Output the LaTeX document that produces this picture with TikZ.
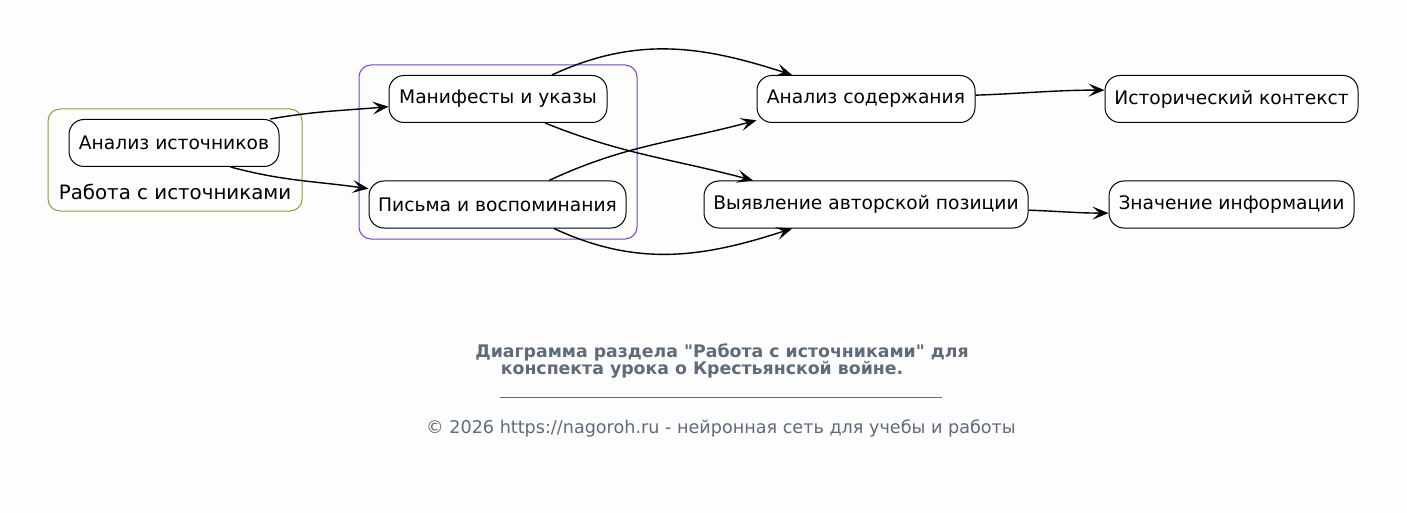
\documentclass[tikz,border=0pt]{standalone}
\usepackage{fontspec}
\setmainfont{DejaVu Sans}[Ligatures=TeXOff]
\usepackage{tikz}
\usetikzlibrary{arrows.meta}
\tikzset{>={Stealth[length=16pt,width=13pt,inset=7pt]}}
\definecolor{bgc}{HTML}{FDFDFD}
\definecolor{grpa}{HTML}{7CAB2E}
\definecolor{grpb}{HTML}{7B3FD0}
\definecolor{capc}{HTML}{5D6B7A}
\tikzset{
  box/.style={draw, line width=1pt, rounded corners=15pt, fill=white,
    minimum height=47pt, inner sep=0pt, font=\fontsize{18.67}{22}\selectfont},
  link/.style={->, line width=1.4pt}
}

\begin{document}
\begin{tikzpicture}[x=1pt, y=1pt]
    \fill[bgc](0, 0)rectangle(1407, -513);
    \useasboundingbox(0, 0)rectangle(1407, -513);
    \draw[grpa, line width=1pt, rounded corners=12pt](48, -109)rectangle(302, -211);
    \draw[grpb, line width=1pt, rounded corners=12pt](359, -65)rectangle(637, -239);
    \node[font=\fontsize{19.8}{23}\selectfont](grplab) at(175, -192){Работа с источниками};
    \node[box, minimum width=210pt](ai) at(174, -143){Анализ источников};
    \node[box, minimum width=218pt](mu) at(498, -99){Манифесты и указы};
    \node[box, minimum width=257pt](pv) at(497.5, -204.5){Письма и воспоминания};
    \node[box, minimum width=218pt](as) at(866, -99){Анализ содержания};
    \node[box, minimum width=324pt](va) at(866, -204.5){Выявление авторской позиции};
    \node[box, minimum width=253pt](ik) at(1231.5, -99){Исторический контекст};
    \node[box, minimum width=245pt](zi) at(1231.5, -204.5){Значение информации};
    \draw[link](ai.14) to[out=10, in=185](mu.184);
    \draw[link](ai.-23) to[out=-15, in=172](pv.173);
    \draw[link](mu.24) to[out=25, in=162](as.162);
    \draw[link](mu.-27) to[out=-22, in=165](va.168);
    \draw[link](pv.25) to[out=25, in=195](as.191);
    \draw[link](pv.-23) to[out=-25, in=198](va.198);
    \draw[link](as.2) to[out=2, in=180](ik.176);
    \draw[link](va.-2) to[out=-2, in=180](zi.184);
    \node[capc, font=\fontsize{17.33}{20}\selectfont\bfseries](capa) at(722, -352){Диаграмма раздела "Работа с источниками" для};
    \node[capc, font=\fontsize{17.33}{20}\selectfont\bfseries](capb) at(702, -370){конспекта урока о Крестьянской войне.};
    \node[capc, inner sep=0pt](sep) at(721, -397){\rule{442pt}{0.7pt}};
    \node[capc, font=\fontsize{17.6}{20}\selectfont](foot) at(721, -428){© 2026 https://nagoroh.ru - нейронная сеть для учебы и работы};
\end{tikzpicture}
\end{document}
